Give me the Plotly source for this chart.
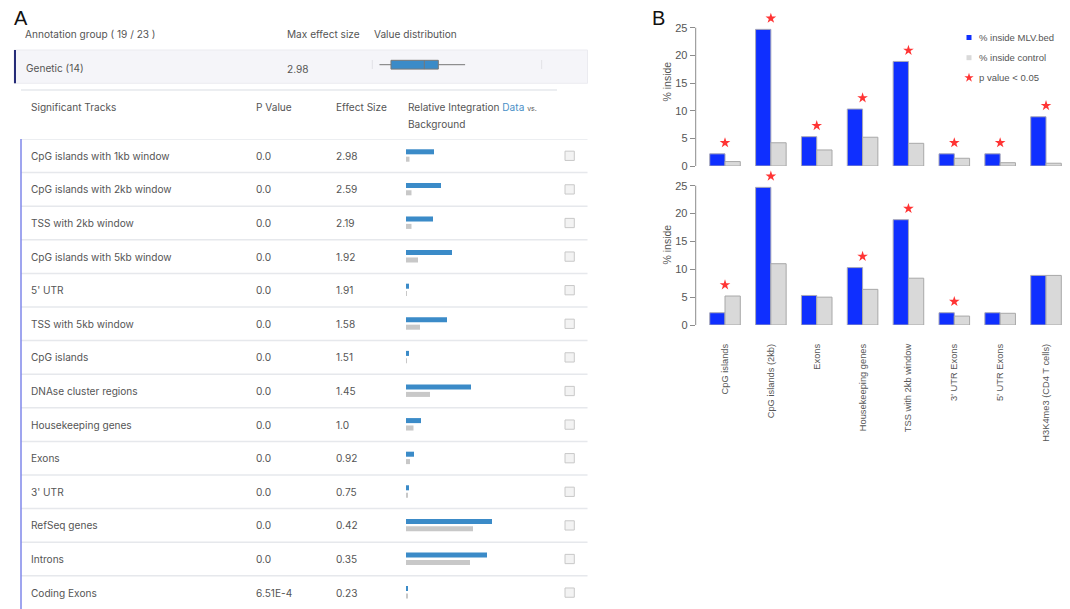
import plotly.graph_objects as go

W, H = 1070, 609

# ---------------- Panel A data ----------------
annotation_group_label = "Annotation group ( 19 / 23 )"
group_label = "Genetic (14)"
group_max_effect = "2.98"
track_names = [
    "CpG islands with 1kb window", "CpG islands with 2kb window", "TSS with 2kb window",
    "CpG islands with 5kb window", "5' UTR", "TSS with 5kb window", "CpG islands",
    "DNAse cluster regions", "Housekeeping genes", "Exons", "3' UTR", "RefSeq genes",
    "Introns", "Coding Exons",
]
p_values = ["0.0", "0.0", "0.0", "0.0", "0.0", "0.0", "0.0",
            "0.0", "0.0", "0.0", "0.0", "0.0", "0.0", "6.51E-4"]
effect_sizes = ["2.98", "2.59", "2.19", "1.92", "1.91", "1.58", "1.51",
                "1.45", "1.0", "0.92", "0.75", "0.42", "0.35", "0.23"]
integration_data = [28, 35, 27, 46, 3, 41, 3, 65, 15, 8, 3, 86, 81, 2]
integration_background = [3.5, 5.5, 5.5, 12, 1, 14, 1, 24, 7.5, 4, 1.5, 67, 64, 1.5]
# value distribution of effect sizes (box summary)
box_lowerfence = [0.23]
box_q1 = [0.60]
box_median = [1.67]
box_q3 = [2.12]
box_upperfence = [2.98]

# ---------------- Panel B data ----------------
regions = ["CpG islands", "CpG islands (2kb)", "Exons", "Housekeeping genes",
           "TSS with 2kb window", "3' UTR Exons", "5' UTR Exons", "H3K4me3 (CD4 T cells)"]
pct_mlv = [2.2, 24.7, 5.3, 10.3, 18.9, 2.2, 2.2, 8.9]
pct_control_top = [0.8, 4.2, 2.9, 5.2, 4.1, 1.4, 0.6, 0.5]
pct_control_bottom = [5.2, 11.0, 5.0, 6.4, 8.4, 1.6, 2.1, 8.9]
sig_top = [True, True, True, True, True, True, True, True]
sig_bottom = [True, True, False, True, True, True, False, False]
y_ticks = [0, 5, 10, 15, 20, 25]
legend_labels = ["% inside MLV.bed", "% inside control", "p value < 0.05"]

BLUE = "#0f2fff"
GREY = "#d9d9d9"
STAR = "#ff3434"
A_BLUE = "#3b8bc8"
A_GREY = "#c8c8c8"
TXT = "#555555"
FONT_A = "Inter"
FONT_B = "Liberation Sans"
SA = 10.1


def fx(x):
    return x / W


def fy(y):
    return 1 - y / H


fig = go.Figure()

# ---- Panel B bars ----
for yax, xax, ctrl, sig in [("y", "x", pct_control_top, sig_top),
                            ("y2", "x2", pct_control_bottom, sig_bottom)]:
    fig.add_trace(go.Bar(x=regions, y=pct_mlv, xaxis=xax, yaxis=yax, offsetgroup="a",
                         marker=dict(color=BLUE, line=dict(color="#a8a8b8", width=1)),
                         showlegend=False, hoverinfo="skip"))
    fig.add_trace(go.Bar(x=regions, y=ctrl, xaxis=xax, yaxis=yax, offsetgroup="b",
                         marker=dict(color=GREY, line=dict(color="#a8a8a8", width=1)),
                         showlegend=False, hoverinfo="skip"))
    sx = [r for r, s in zip(regions, sig) if s]
    sy = [max(b, c) + 2 for b, c, s in zip(pct_mlv, ctrl, sig) if s]
    fig.add_trace(go.Scatter(x=sx, y=sy, xaxis=xax, yaxis=yax, mode="markers",
                             marker=dict(symbol="star", size=8, color=STAR, line=dict(width=0)),
                             cliponaxis=False, showlegend=False, hoverinfo="skip"))

# ---- Panel B legend (manual) ----
leg_y = [37.5, 57.7, 77.7]
fig.add_trace(go.Scatter(x=[969, 969], y=leg_y[:2], xaxis="x5", yaxis="y5", mode="markers",
                         marker=dict(symbol="square", size=5, color=[BLUE, GREY], line=dict(width=0)),
                         showlegend=False, hoverinfo="skip", cliponaxis=False))
fig.add_trace(go.Scatter(x=[969], y=[leg_y[2]], xaxis="x5", yaxis="y5", mode="markers",
                         marker=dict(symbol="star", size=7, color=STAR, line=dict(width=0)),
                         showlegend=False, hoverinfo="skip", cliponaxis=False))

# ---- Panel A integration bars ----
rows = list(range(len(track_names)))
fig.add_trace(go.Bar(y=rows, x=integration_data, orientation="h", xaxis="x3", yaxis="y3",
                     width=0.15, offset=-0.194, marker=dict(color=A_BLUE, line=dict(width=0)),
                     showlegend=False, hoverinfo="skip"))
fig.add_trace(go.Bar(y=rows, x=integration_background, orientation="h", xaxis="x3", yaxis="y3",
                     width=0.15, offset=0.026, marker=dict(color=A_GREY, line=dict(width=0)),
                     showlegend=False, hoverinfo="skip"))

# ---- Panel A value distribution box ----
fig.add_trace(go.Box(y=[0], q1=box_q1, median=box_median, q3=box_q3,
                     lowerfence=box_lowerfence, upperfence=box_upperfence,
                     orientation="h", xaxis="x4", yaxis="y4", width=0.44, whiskerwidth=0,
                     fillcolor=A_BLUE, line=dict(color="#777777", width=1),
                     showlegend=False, hoverinfo="skip", boxpoints=False))

shapes = []
annotations = []


def add_text(x, y, s, size=SA, color=TXT, family=FONT_A, xref="paper", yref="paper",
             xanchor="left", yanchor="middle", angle=0):
    annotations.append(dict(x=x, y=y, xref=xref, yref=yref, text=s, showarrow=False,
                            xanchor=xanchor, yanchor=yanchor, textangle=angle,
                            font=dict(size=size, color=color, family=family), borderpad=0))


# Panel labels
add_text(fx(13), fy(18), "A", size=20, color="#111111", family=FONT_B)
add_text(fx(651), fy(18), "B", size=20, color="#111111", family=FONT_B)

# Panel A header
add_text(fx(24), fy(34.5), annotation_group_label)
add_text(fx(285.5), fy(34.5), "Max effect size")
add_text(fx(372.5), fy(34.5), "Value distribution")

# Genetic group row
shapes.append(dict(type="rect", xref="paper", yref="paper", x0=fx(14), x1=fx(587.5),
                   y0=fy(83.3), y1=fy(50), fillcolor="#f5f5f9",
                   line=dict(color="#ebebf0", width=1), layer="below"))
shapes.append(dict(type="line", xref="paper", yref="paper", x0=fx(15), x1=fx(15),
                   y0=fy(83.3), y1=fy(50), line=dict(color="#262c78", width=2)))
for tx in (372.3, 541.7):
    shapes.append(dict(type="line", xref="paper", yref="paper", x0=fx(tx), x1=fx(tx),
                       y0=fy(69), y1=fy(60), line=dict(color="#e2e2e6", width=1)))
add_text(fx(25), fy(67.5), group_label)
add_text(fx(285.5), fy(69), group_max_effect)

# Separator under group row
shapes.append(dict(type="line", xref="paper", yref="paper", x0=fx(21), x1=fx(557),
                   y0=fy(90), y1=fy(90), line=dict(color="#e6e8ec", width=1.5)))

# Column headers
add_text(fx(29.5), fy(107), "Significant Tracks")
add_text(fx(255.3), fy(107), "P Value")
add_text(fx(334.5), fy(107), "Effect Size")
add_text(fx(407), fy(107),
         "Relative Integration <span style='color:#4a90c8'>Data</span>"
         " <span style='font-size:7px'>vs.</span>")
add_text(fx(407), fy(124), "Background")

# Rows
for i in rows:
    shapes.append(dict(type="line", xref="paper", yref="y3", x0=fx(21), x1=fx(587.5),
                       y0=i - 0.5, y1=i - 0.5, line=dict(color="#e6e8ec", width=1.5)))
    shapes.append(dict(type="rect", xref="paper", yref="y3", x0=fx(565), x1=fx(574.3),
                       y0=i - 0.138, y1=i + 0.138, fillcolor="#f3f3f3",
                       line=dict(color="#c8c8c8", width=1)))
    add_text(fx(30), i, track_names[i], yref="y3")
    add_text(fx(255), i, p_values[i], yref="y3")
    add_text(fx(334.5), i, effect_sizes[i], yref="y3")

# Left vertical accent line
shapes.append(dict(type="line", xref="paper", yref="paper", x0=fx(21), x1=fx(21),
                   y0=0, y1=fy(139), line=dict(color="#7f87ea", width=1.5)))

# Panel B y-axis lines (span 0..25 like base R)
for yref in ("y", "y2"):
    shapes.append(dict(type="line", xref="paper", yref=yref, x0=fx(695.7), x1=fx(695.7),
                       y0=y_ticks[0], y1=y_ticks[-1], line=dict(color="#8c8c8c", width=1)))

# Panel B axis titles
add_text(fx(666.5), fy(82), "% inside", size=10.5, family=FONT_B, xanchor="center",
         yanchor="middle", angle=-90)
add_text(fx(666.5), fy(245), "% inside", size=10.5, family=FONT_B, xanchor="center",
         yanchor="middle", angle=-90)

# Legend text
for ly, lab in zip(leg_y, legend_labels):
    add_text(977.5, ly, lab, size=9.5, family=FONT_B, xref="x5", yref="y5")

ax_common_y = dict(tickvals=y_ticks, showline=False,
                   ticks="outside", ticklen=5, tickcolor="#8c8c8c", tickwidth=1,
                   tickfont=dict(size=11, color=TXT, family=FONT_B),
                   showgrid=False, zeroline=False, fixedrange=True, automargin=False)
x_dom = [fx(695.7), 1.0]
x_rng = [-0.639, 7.523]
# top chart: 0 -> 166 px, 25 -> 27.7 px ; bottom: 0 -> 325 px, 25 -> 185.7 px
top_ppu = (166 - 27.7) / 25
bot_ppu = (325 - 185.7) / 25
y_top_max = 28
y_bot_max = 28

fig.update_layout(
    template="none",
    width=W, height=H, margin=dict(l=0, r=0, t=0, b=0, pad=0), autosize=False,
    paper_bgcolor="white", plot_bgcolor="rgba(0,0,0,0)",
    barmode="group", bargap=1 / 3, bargroupgap=0,
    showlegend=False,
    xaxis=dict(domain=x_dom, range=x_rng, type="category", categoryarray=regions,
               showticklabels=False, showline=False, showgrid=False, zeroline=False,
               ticks="", anchor="y", automargin=False),
    yaxis=dict(domain=[fy(166), fy(166 - y_top_max * top_ppu)], range=[0, y_top_max],
               anchor="x", **ax_common_y),
    xaxis2=dict(domain=x_dom, range=x_rng, type="category", categoryarray=regions,
                showline=False, showgrid=False, zeroline=False, ticks="", anchor="y2",
                tickangle=-90, ticklabelstandoff=16, automargin=False,
                tickfont=dict(size=9.3, color=TXT, family=FONT_B)),
    yaxis2=dict(domain=[fy(325), fy(325 - y_bot_max * bot_ppu)], range=[0, y_bot_max],
                anchor="x2", **ax_common_y),
    xaxis3=dict(domain=[fx(406), fx(506)], range=[0, 100], visible=False, anchor="y3",
                automargin=False),
    yaxis3=dict(domain=[0, fy(139)], range=[13.488, -0.5], visible=False, anchor="x3",
                automargin=False),
    xaxis4=dict(domain=[fx(372.3), fx(541.7)], range=[0, 5.44], visible=False, anchor="y4",
                automargin=False),
    yaxis4=dict(domain=[fy(74.7), fy(54.7)], range=[-0.5, 0.5], visible=False, anchor="x4",
                automargin=False),
    xaxis5=dict(domain=[fx(955), fx(1065)], range=[955, 1065], visible=False, anchor="y5",
                automargin=False),
    yaxis5=dict(domain=[fy(90), fy(25)], range=[90, 25], visible=False, anchor="x5",
                automargin=False),
    shapes=shapes,
    annotations=annotations,
)

fig.write_html("out.html")
